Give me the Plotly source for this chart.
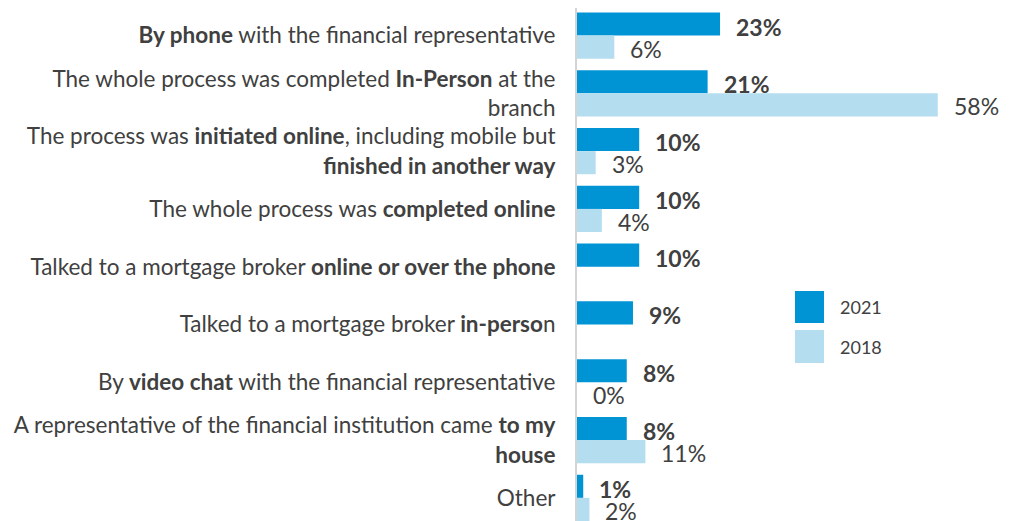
import plotly.graph_objects as go

categories = [
    "<b>By phone</b> with the financial representative",
    "The whole process was completed <b>In-Person</b> at the<br>branch",
    "The process was <b>initiated online</b>, including mobile but<br><b>finished in another way</b>",
    "The whole process was <b>completed online</b>",
    "Talked to a mortgage broker <b>online or over the phone</b>",
    "Talked to a mortgage broker <b>in-perso</b>n",
    "By <b>video chat</b> with the financial representative",
    "A representative of the financial institution came <b>to my</b><br><b>house</b>",
    "Other",
]
values_2021 = [23, 21, 10, 10, 10, 9, 8, 8, 1]
values_2018 = [6, 58, 3, 4, None, None, 0, 11, 2]
series_names = ["2021", "2018"]

C2021 = "#0094D4"
C2018 = "#B4DEF0"
TXT = "#404040"
FONT = "Lato, 'Open Sans', sans-serif"

fig = go.Figure()
fig.add_trace(go.Bar(y=categories, x=values_2021, orientation="h", name=series_names[0],
                     marker=dict(color=C2021, line=dict(width=0)), showlegend=False))
fig.add_trace(go.Bar(y=categories, x=values_2018, orientation="h", name=series_names[1],
                     marker=dict(color=C2018, line=dict(width=0)), showlegend=False))

annotations = []
for cat, v in zip(categories, values_2021):
    annotations.append(dict(x=v, y=cat, xref="x", yref="y", text=f"<b>{v}%</b>", showarrow=False,
                            xanchor="left", yanchor="middle", xshift=14, yshift=9,
                            font=dict(size=23, color=TXT, family=FONT)))
for cat, v in zip(categories, values_2018):
    if v is None:
        continue
    annotations.append(dict(x=v, y=cat, xref="x", yref="y", text=f"{v}%", showarrow=False,
                            xanchor="left", yanchor="middle", xshift=14, yshift=-13,
                            font=dict(size=23, color=TXT, family=FONT)))

# legend (custom large squares)
leg = [(series_names[0], C2021, 0.4483, 0.386), (series_names[1], C2018, 0.3723, 0.308)]
shapes = []
for name, col, y1, y0 in leg:
    shapes.append(dict(type="rect", xref="paper", yref="paper", x0=0.5, x1=0.5665, y0=y0, y1=y1,
                       fillcolor=col, line=dict(width=0)))
    annotations.append(dict(x=0.5986, y=(y0 + y1) / 2, xref="paper", yref="paper", text=name,
                            showarrow=False, xanchor="left", yanchor="middle",
                            font=dict(size=18, color=TXT, family=FONT)))

fig.update_layout(
    width=1005, height=513,
    margin=dict(l=569, r=0, t=0, b=0, autoexpand=False),
    paper_bgcolor="white", plot_bgcolor="white",
    barmode="group", bargap=0.2, bargroupgap=0,
    font=dict(family=FONT, color=TXT),
    annotations=annotations, shapes=shapes,
    xaxis=dict(range=[0, 70.1], visible=False, fixedrange=True),
    yaxis=dict(range=[8.40, -0.476], type="category", showline=True, linecolor="#D4D4D4", linewidth=2,
               ticks="", ticklabelstandoff=15, showgrid=False, zeroline=False,
               tickfont=dict(size=22.5, color=TXT, family=FONT), automargin=False),
)

fig.write_html("out.html")
